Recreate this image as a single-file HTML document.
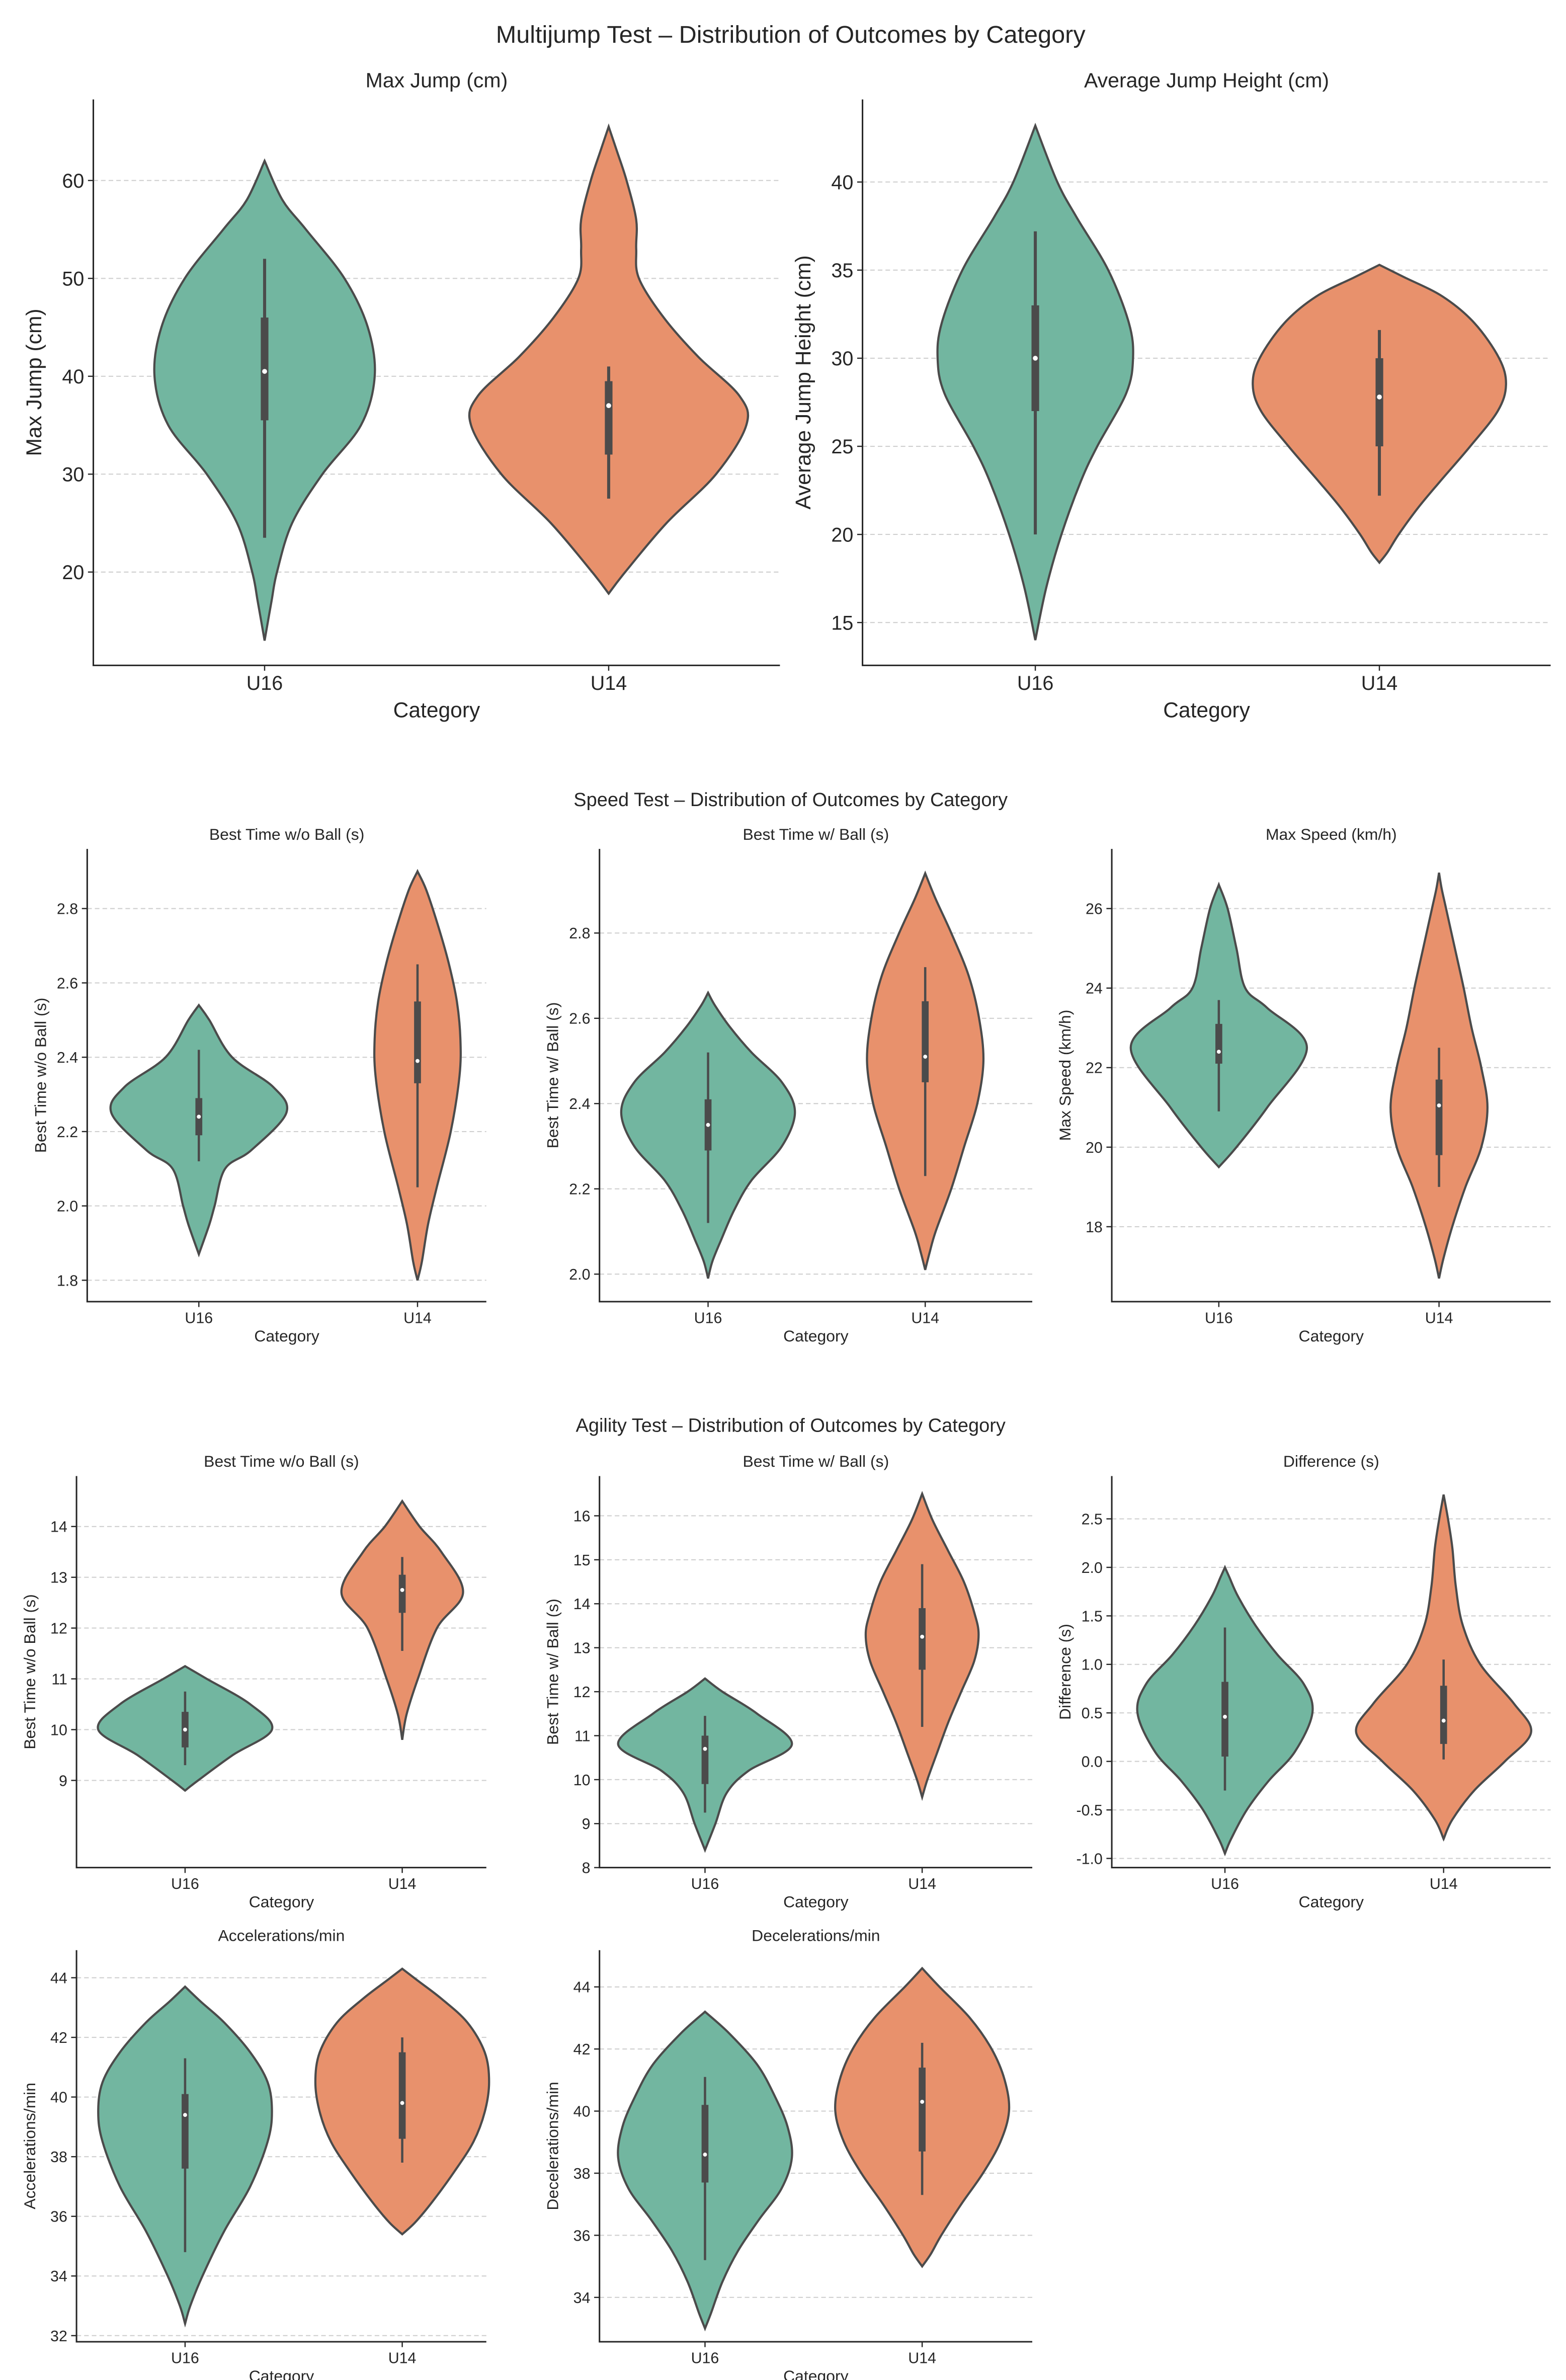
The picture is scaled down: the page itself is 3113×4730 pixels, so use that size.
<!DOCTYPE html>
<html><head><meta charset="utf-8"><style>
html,body{margin:0;padding:0;background:#fff}
svg{display:block}
text{font-family:"Liberation Sans","DejaVu Sans",sans-serif;fill:#262626}
</style></head><body>
<svg id="fig" xmlns="http://www.w3.org/2000/svg" width="3113" height="4730" viewBox="0 0 1024 1556">
<rect width="1024" height="1556" fill="#fff"/>
<text x="517" y="28" font-size="16" text-anchor="middle">Multijump Test – Distribution of Outcomes by Category</text>
<text x="517" y="527" font-size="12.5" text-anchor="middle">Speed Test – Distribution of Outcomes by Category</text>
<text x="517" y="936" font-size="12.5" text-anchor="middle">Agility Test – Distribution of Outcomes by Category</text>
</svg>
<script>
const categories=["U16","U14"];
// Max Jump
const mjTicks=[20,30,40,50,60];
const mjU16Vals=[13,17,20,25,30,35,40,45,50,55,58,62];
const mjU16Dens=[0,0.05,0.09,0.2,0.42,0.7,0.8,0.75,0.58,0.3,0.13,0];
const mjU16Box=[23.5,35.5,40.5,46,52];
const mjU14Vals=[17.8,20,25,30,35,38,42,46,50,53,56,60,63,65.5];
const mjU14Dens=[0,0.12,0.42,0.78,1.0,0.95,0.65,0.4,0.22,0.2,0.2,0.13,0.06,0];
const mjU14Box=[27.5,32,37,39.5,41];
// Average Jump Height
const ajTicks=[15,20,25,30,35,40];
const ajU16Vals=[14,17,20,23,25,28,30,32,35,38,40,43.2];
const ajU16Dens=[0,0.08,0.19,0.33,0.45,0.66,0.71,0.68,0.53,0.3,0.16,0];
const ajU16Box=[20,27,30,33,37.2];
const ajU14Vals=[18.4,19,20,21.5,23,25,27,28.5,30,32,33.5,34.6,35.3];
const ajU14Dens=[0,0.06,0.14,0.28,0.44,0.66,0.86,0.92,0.87,0.69,0.46,0.18,0];
const ajU14Box=[22.2,25,27.8,30,31.6];
// Speed best w/o ball
const swoTicks=[1.8,2.0,2.2,2.4,2.6,2.8];
const swoU16Vals=[1.87,1.95,2.0,2.1,2.15,2.25,2.32,2.4,2.5,2.54];
const swoU16Dens=[0,0.12,0.18,0.3,0.6,1.0,0.85,0.38,0.12,0];
const swoU16Box=[2.12,2.19,2.24,2.29,2.42];
const swoU14Vals=[1.8,1.85,1.95,2.05,2.2,2.35,2.45,2.55,2.65,2.75,2.85,2.9];
const swoU14Dens=[0,0.05,0.12,0.22,0.38,0.48,0.49,0.45,0.36,0.24,0.1,0];
const swoU14Box=[2.05,2.33,2.39,2.55,2.65];
// Speed best w/ ball
const swTicks=[2.0,2.2,2.4,2.6,2.8];
const swU16Vals=[1.99,2.03,2.08,2.15,2.22,2.3,2.38,2.45,2.52,2.58,2.63,2.66];
const swU16Dens=[0,0.05,0.15,0.3,0.5,0.85,1.0,0.85,0.5,0.25,0.08,0];
const swU16Box=[2.12,2.29,2.35,2.41,2.52];
const swU14Vals=[2.01,2.05,2.1,2.2,2.3,2.4,2.5,2.6,2.7,2.8,2.88,2.94];
const swU14Dens=[0,0.05,0.12,0.3,0.45,0.6,0.67,0.62,0.5,0.3,0.12,0];
const swU14Box=[2.23,2.45,2.51,2.64,2.72];
// Max speed
const msTicks=[18,20,22,24,26];
const msU16Vals=[19.5,20,21,22.5,23.5,24,25,26,26.6];
const msU16Dens=[0,0.2,0.55,1.0,0.55,0.3,0.2,0.1,0];
const msU16Box=[20.9,22.1,22.4,23.1,23.7];
const msU14Vals=[16.7,17.2,18,19,20,21,22,23,24,25,26,26.5,26.9];
const msU14Dens=[0,0.05,0.15,0.3,0.48,0.55,0.48,0.37,0.28,0.18,0.08,0.03,0];
const msU14Box=[19,19.8,21.05,21.7,22.5];
// Agility w/o ball
const awoTicks=[9,10,11,12,13,14];
const awoU16Vals=[8.8,9.0,9.5,10,10.5,11,11.25];
const awoU16Dens=[0,0.15,0.55,1.0,0.75,0.25,0];
const awoU16Box=[9.3,9.65,10,10.35,10.75];
const awoU14Vals=[9.8,10.3,11,12,12.7,13.5,14,14.5];
const awoU14Dens=[0,0.05,0.18,0.4,0.7,0.45,0.2,0];
const awoU14Box=[11.55,12.3,12.75,13.05,13.4];
// Agility w/ ball
const awTicks=[8,9,10,11,12,13,14,15,16];
const awU16Vals=[8.4,9,9.7,10.2,10.8,11.5,12,12.3];
const awU16Dens=[0,0.12,0.25,0.5,1.0,0.6,0.2,0];
const awU16Box=[9.25,9.9,10.7,11.0,11.45];
const awU14Vals=[9.6,10,10.6,11.3,12,12.7,13.3,13.8,14.5,15.2,15.9,16.5];
const awU14Dens=[0,0.06,0.17,0.3,0.45,0.6,0.65,0.6,0.48,0.3,0.12,0];
const awU14Box=[11.2,12.5,13.25,13.9,14.9];
// Difference
const dfTicks=[-1.0,-0.5,0.0,0.5,1.0,1.5,2.0,2.5];
const dfU16Vals=[-0.95,-0.8,-0.5,-0.2,0.1,0.5,0.8,1.1,1.4,1.7,1.9,2.0];
const dfU16Dens=[0,0.07,0.25,0.5,0.8,1.0,0.9,0.6,0.35,0.15,0.05,0];
const dfU16Box=[-0.3,0.05,0.46,0.82,1.38];
const dfU14Vals=[-0.8,-0.6,-0.3,0,0.3,0.6,1.0,1.4,1.8,2.2,2.5,2.75];
const dfU14Dens=[0,0.1,0.35,0.7,1.0,0.8,0.42,0.22,0.14,0.1,0.05,0];
const dfU14Box=[0.02,0.18,0.42,0.78,1.05];
// Accelerations
const acTicks=[32,34,36,38,40,42,44];
const acU16Vals=[32.4,33,34,35.5,37,38.5,39.5,40.5,41.5,42.5,43.2,43.7];
const acU16Dens=[0,0.06,0.2,0.45,0.75,0.95,1.0,0.95,0.75,0.45,0.18,0];
const acU16Box=[34.8,37.6,39.4,40.1,41.3];
const acU14Vals=[35.4,35.8,36.5,37.5,38.5,39.5,40.5,41.5,42.5,43.3,43.9,44.3];
const acU14Dens=[0,0.15,0.35,0.6,0.82,0.95,1.0,0.95,0.75,0.45,0.18,0];
const acU14Box=[37.8,38.6,39.8,41.5,42];
// Decelerations
const deTicks=[34,36,38,40,42,44];
const deU16Vals=[33,33.5,34.5,35.5,36.5,37.5,38.5,39.5,40.5,41.5,42.5,43.2];
const deU16Dens=[0,0.07,0.2,0.38,0.62,0.88,1.0,0.95,0.8,0.6,0.28,0];
const deU16Box=[35.2,37.7,38.6,40.2,41.1];
const deU14Vals=[35,35.4,36,37,38,39,40,41,42,43,44,44.6];
const deU14Dens=[0,0.1,0.22,0.45,0.7,0.9,1.0,0.95,0.8,0.55,0.2,0];
const deU14Box=[37.3,38.7,40.3,41.4,42.2];

const panels=[
 {id:"max-jump",title:"Max Jump (cm)",ylab:"Max Jump (cm)",x0:61,x1:510,y0:65,y1:435,vLo:20,pLo:374,vHi:60,pHi:118,cx:[173,398],ticks:mjTicks,fmt:0,big:1,
  v:[[mjU16Vals,mjU16Dens,mjU16Box],[mjU14Vals,mjU14Dens,mjU14Box]]},
 {id:"avg-jump",title:"Average Jump Height (cm)",ylab:"Average Jump Height (cm)",x0:564,x1:1014,y0:65,y1:435,vLo:15,pLo:407,vHi:40,pHi:119,cx:[677,902],ticks:ajTicks,fmt:0,big:1,
  v:[[ajU16Vals,ajU16Dens,ajU16Box],[ajU14Vals,ajU14Dens,ajU14Box]]},
 {id:"speed-wo-ball",title:"Best Time w/o Ball (s)",ylab:"Best Time w/o Ball (s)",x0:57,x1:318,y0:555,y1:851,vLo:1.8,pLo:837,vHi:2.8,pHi:594,cx:[130,273],ticks:swoTicks,fmt:1,
  v:[[swoU16Vals,swoU16Dens,swoU16Box],[swoU14Vals,swoU14Dens,swoU14Box]]},
 {id:"speed-w-ball",title:"Best Time w/ Ball (s)",ylab:"Best Time w/ Ball (s)",x0:392,x1:675,y0:555,y1:851,vLo:2.0,pLo:833,vHi:2.8,pHi:610,cx:[463,605],ticks:swTicks,fmt:1,
  v:[[swU16Vals,swU16Dens,swU16Box],[swU14Vals,swU14Dens,swU14Box]]},
 {id:"max-speed",title:"Max Speed (km/h)",ylab:"Max Speed (km/h)",x0:727,x1:1014,y0:555,y1:851,vLo:18,pLo:802,vHi:26,pHi:594,cx:[797,941],ticks:msTicks,fmt:0,
  v:[[msU16Vals,msU16Dens,msU16Box],[msU14Vals,msU14Dens,msU14Box]]},
 {id:"agility-wo-ball",title:"Best Time w/o Ball (s)",ylab:"Best Time w/o Ball (s)",x0:50,x1:318,y0:965,y1:1221,vLo:9,pLo:1164,vHi:14,pHi:998,cx:[121,263],ticks:awoTicks,fmt:0,
  v:[[awoU16Vals,awoU16Dens,awoU16Box],[awoU14Vals,awoU14Dens,awoU14Box]]},
 {id:"agility-w-ball",title:"Best Time w/ Ball (s)",ylab:"Best Time w/ Ball (s)",x0:392,x1:675,y0:965,y1:1221,vLo:8,pLo:1221,vHi:16,pHi:991,cx:[461,603],ticks:awTicks,fmt:0,
  v:[[awU16Vals,awU16Dens,awU16Box],[awU14Vals,awU14Dens,awU14Box]]},
 {id:"difference",title:"Difference (s)",ylab:"Difference (s)",x0:727,x1:1014,y0:965,y1:1221,vLo:-1,pLo:1215,vHi:2.5,pHi:993,cx:[801,944],ticks:dfTicks,fmt:1,
  v:[[dfU16Vals,dfU16Dens,dfU16Box],[dfU14Vals,dfU14Dens,dfU14Box]]},
 {id:"accelerations",title:"Accelerations/min",ylab:"Accelerations/min",x0:50,x1:318,y0:1275,y1:1531,vLo:32,pLo:1527,vHi:44,pHi:1293,cx:[121,263],ticks:acTicks,fmt:0,
  v:[[acU16Vals,acU16Dens,acU16Box],[acU14Vals,acU14Dens,acU14Box]]},
 {id:"decelerations",title:"Decelerations/min",ylab:"Decelerations/min",x0:392,x1:675,y0:1275,y1:1531,vLo:34,pLo:1502,vHi:44,pHi:1299,cx:[461,603],ticks:deTicks,fmt:0,
  v:[[deU16Vals,deU16Dens,deU16Box],[deU14Vals,deU14Dens,deU14Box]]}
];
const NS="http://www.w3.org/2000/svg";
const fig=document.getElementById("fig");
const fills=["#72b6a0","#e8916c"];
function mk(tag,attrs,parent,txt){const e=document.createElementNS(NS,tag);for(const k in attrs)e.setAttribute(k,attrs[k]);if(txt!==undefined)e.textContent=txt;parent.appendChild(e);return e;}
function crPath(pts){let d="M"+pts[0][0].toFixed(2)+","+pts[0][1].toFixed(2);
 for(let i=0;i<pts.length-1;i++){const p0=pts[Math.max(0,i-1)],p1=pts[i],p2=pts[i+1],p3=pts[Math.min(pts.length-1,i+2)];
  const c1=[p1[0]+(p2[0]-p0[0])/6,p1[1]+(p2[1]-p0[1])/6],c2=[p2[0]-(p3[0]-p1[0])/6,p2[1]-(p3[1]-p1[1])/6];
  d+=" C"+c1[0].toFixed(2)+","+c1[1].toFixed(2)+" "+c2[0].toFixed(2)+","+c2[1].toFixed(2)+" "+p2[0].toFixed(2)+","+p2[1].toFixed(2);}
 return d;}
panels.forEach(p=>{
 const g=mk("g",{},fig);
 
 
 const yS=v=>p.pLo+(v-p.vLo)*(p.pHi-p.pLo)/(p.vHi-p.vLo);
 const half=(p.cx[1]-p.cx[0])*0.4;
 const fsK=p.big?13:10, fsL=p.big?14:10.5;
 p.ticks.forEach(t=>{const y=yS(t);
  const gl=mk("line",{x1:p.x0,x2:p.x1,y1:y,y2:y,stroke:"#cfcfcf","stroke-width":0.7,"stroke-dasharray":"3,2"},g);
  
  
  mk("line",{x1:p.x0-3.5,x2:p.x0,y1:y,y2:y,stroke:"#262626","stroke-width":0.8},g);
  const tl=mk("text",{x:p.x0-6,y:y+fsK*0.36,"font-size":fsK,"text-anchor":"end"},g,p.fmt?t.toFixed(p.fmt):String(t));
  
  
 });
 p.v.forEach((vd,i)=>{const [vals,dens,box]=vd;const cx=p.cx[i];
  const right=vals.map((v,k)=>[cx+dens[k]*half,yS(v)]);
  const left=vals.map((v,k)=>[cx-dens[k]*half,yS(v)]).reverse();
  let d=crPath(right)+" L"+crPath(left).slice(1)+" Z";
  const vp=mk("path",{d:d,fill:fills[i],stroke:"#4b4b4b","stroke-width":1.4},g);
  
  
  const w=mk("line",{x1:cx,x2:cx,y1:yS(box[0]),y2:yS(box[4]),stroke:"#4b4b4b","stroke-width":p.big?2:1.5},g);
  
  
  const bw=p.big?5:4.5;
  const b=mk("rect",{x:cx-bw/2,y:yS(box[3]),width:bw,height:yS(box[1])-yS(box[3]),fill:"#4b4b4b"},g);
  
  
  const m=mk("circle",{cx:cx,cy:yS(box[2]),r:p.big?1.6:1.3,fill:"#fff"},g);
  
  
  mk("line",{x1:cx,x2:cx,y1:p.y1,y2:p.y1+3.5,stroke:"#262626","stroke-width":0.8},g);
  const xl=mk("text",{x:cx,y:p.y1+(p.big?16:14),"font-size":fsK,"text-anchor":"middle"},g,categories[i]);
  
  
 });
 const sp=mk("path",{d:`M${p.x0},${p.y0} L${p.x0},${p.y1} L${p.x1},${p.y1}`,fill:"none",stroke:"#262626","stroke-width":1},g);
 
 
 const tt=mk("text",{x:(p.x0+p.x1)/2,y:p.y0-(p.big?8:6),"font-size":p.big?13.5:10.5,"text-anchor":"middle"},g,p.title);
 
 
 const xa=mk("text",{x:(p.x0+p.x1)/2,y:p.y1+(p.big?34:26),"font-size":fsL,"text-anchor":"middle"},g,"Category");
 
 
 const yx=p.big?(p.x0-34):(p.x0-27), ym=(p.y0+p.y1)/2;
 const ya=mk("text",{x:yx,y:ym,"font-size":fsL,"text-anchor":"middle",transform:`rotate(-90 ${yx} ${ym})`},g,p.ylab);
 
 
});
</script>
</body></html>
